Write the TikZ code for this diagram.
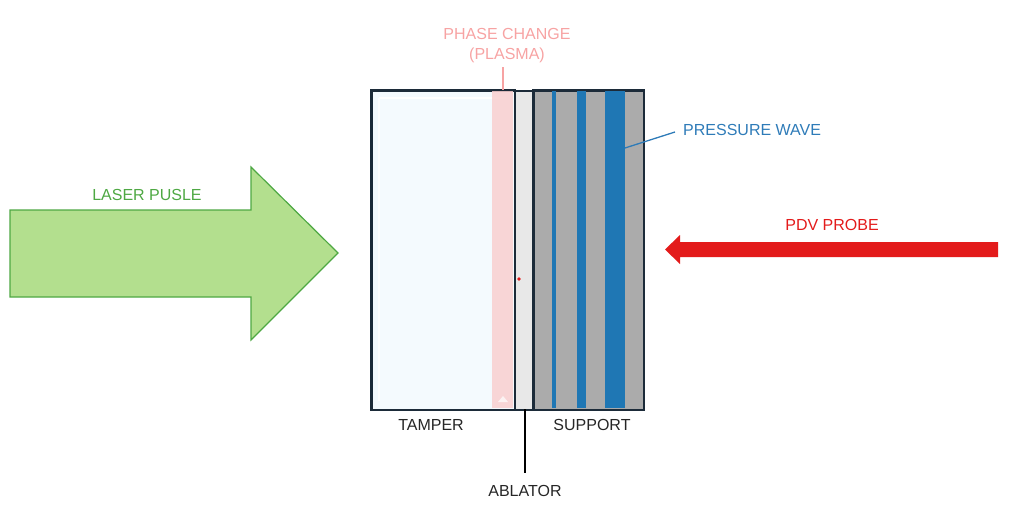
\documentclass[tikz,border=0pt]{standalone}
\usepackage{fontspec}
\setmainfont{Liberation Sans}
\definecolor{lgreen}{HTML}{B3DF8E}
\definecolor{dgreen}{HTML}{4EA843}
\definecolor{pred}{HTML}{E31B1B}
\definecolor{pblue}{HTML}{2E7BB8}
\definecolor{sblue}{HTML}{1F77B4}
\definecolor{pink}{HTML}{F7A3A3}
\definecolor{band}{HTML}{F9CFCF}
\definecolor{frame}{HTML}{1C2B39}
\definecolor{tamperfill}{HTML}{F4FAFE}
\definecolor{ablfill}{HTML}{E8E8E8}
\definecolor{supfill}{HTML}{ABABAB}
\begin{document}
\begin{tikzpicture}[x=1pt,y=-1pt,
  lbl/.style={font=\fontsize{16}{22}\selectfont, inner sep=0pt},
  layer/.style={draw=frame, line width=1.6pt},
  stripe/.style={fill=sblue, draw=none}]
\useasboundingbox (0,0) rectangle (1024,527);
% laser arrow
\filldraw[fill=lgreen, draw=dgreen, line width=1.2pt]
  (10,210) -- (251,210) -- (251,167) -- (338,253) -- (251,340) -- (251,297) -- (10,297) -- cycle;
\node[lbl, text=dgreen] (laser) at (147,195) {LASER PUSLE};
% tamper
\node[layer, fill=tamperfill, minimum width=143pt, minimum height=319pt, inner sep=0pt, anchor=north west] (tamper) at (371,90) {};
\draw[white, line width=2pt] (379,98) -- (506,98);
\draw[white!80!tamperfill, line width=1.5pt] (379,98) -- (379,401);
% pink band
\fill[band, opacity=0.85] (492,91) rectangle (513,408);
\fill[white, opacity=0.7] (498,402) -- (503,396) -- (508,402) -- cycle;
% ablator
\node[layer, fill=ablfill, minimum width=19pt, minimum height=319pt, inner sep=0pt, anchor=north west] (ablator) at (514,90) {};
% support
\node[layer, fill=supfill, minimum width=110pt, minimum height=319pt, inner sep=0pt, anchor=north west] (support) at (533,90) {};
\fill[stripe] (552,91) rectangle (555.5,408);
\fill[stripe] (577,91) rectangle (586,408);
\fill[stripe] (605,91) rectangle (625,408);
\draw[layer] (support.north west) rectangle (support.south east);
\draw[layer] (tamper.north west) rectangle (tamper.south east);
% red dot
\fill[pred] (519,279) circle (1.8pt);
% phase change label
\node[lbl, text=pink] (phase) at (507,34) {PHASE CHANGE};
\node[lbl, text=pink] (plasma) at (507,55) {(PLASMA)};
\coordinate (phasept) at (503,90);
\draw[pink, line width=1.2pt] (phasept |- 0,67) -- (phasept);
% pressure wave
\node[lbl, text=pblue, anchor=west] (pw) at (683,130) {PRESSURE WAVE};
\coordinate (pwpt) at (625,148);
\draw[pblue, line width=1.3pt] (675,132) -- (pwpt);
% PDV probe
\fill[pred] (998,242) -- (680,242) -- (680,235) -- (665,249.5) -- (680,264) -- (680,257) -- (998,257) -- cycle;
\node[lbl, text=pred] (pdv) at (832,225) {PDV PROBE};
% bottom labels
\node[lbl, text=black!85] (tlabel) at (431,425) {TAMPER};
\node[lbl, text=black!85] (slabel) at (592,425) {SUPPORT};
\node[lbl, text=black!85] (alabel) at (525,491) {ABLATOR};
\coordinate (ablpt) at (525,409);
\draw[black, line width=1.3pt] (ablpt) -- (ablpt |- 0,473);
\end{tikzpicture}
\end{document}
